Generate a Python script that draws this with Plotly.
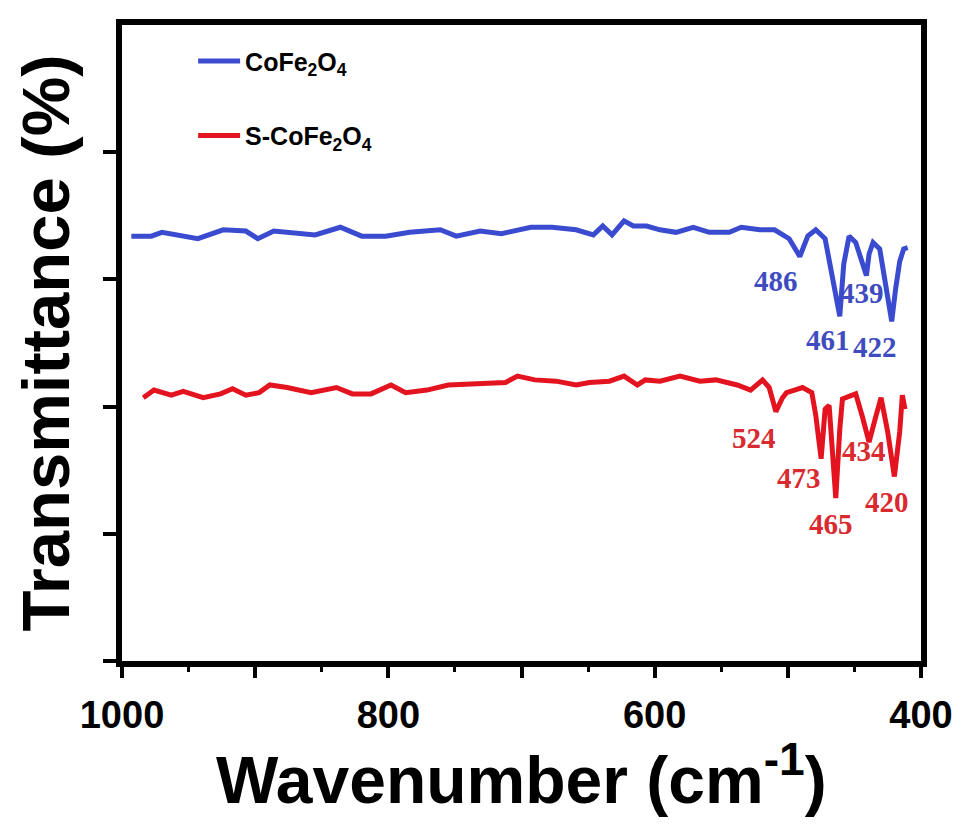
import plotly.graph_objects as go

# ---- data ----
blue_wn = [993, 978, 970, 951, 943, 924, 907, 898, 886, 855, 836, 820, 802, 784, 761, 749, 731, 715,
           693, 677, 659, 646, 639, 632, 623, 616, 606, 596, 584, 571, 559, 544, 535, 521, 510, 499,
           491, 485, 479, 472, 467, 461, 458, 454, 449, 445, 441, 439, 436, 431, 427, 422, 419, 416,
           413, 410]
blue_t = [3.34, 3.34, 3.37, 3.34, 3.32, 3.39, 3.38, 3.32, 3.38, 3.35, 3.41, 3.34, 3.34, 3.37, 3.39,
          3.34, 3.38, 3.36, 3.41, 3.41, 3.39, 3.35, 3.42, 3.35, 3.46, 3.42, 3.42, 3.39, 3.37, 3.41,
          3.37, 3.37, 3.41, 3.39, 3.39, 3.32, 3.18, 3.34, 3.39, 3.32, 3.04, 2.71, 3.12, 3.34, 3.29,
          3.16, 3.03, 3.20, 3.29, 3.24, 3.00, 2.67, 2.93, 3.14, 3.24, 3.25]

red_wn = [984, 976, 963, 954, 939, 926, 917, 907, 897, 889, 876, 858, 839, 827, 813, 798, 787, 771,
          755, 736, 712, 703, 690, 674, 659, 649, 634, 623, 613, 607, 596, 581, 566, 554, 538, 528,
          519, 514, 509, 504, 501, 495, 489, 482, 479, 475, 472, 469, 467, 464, 461, 459, 454, 449,
          444, 439, 434, 430, 425, 420, 416, 414, 412]
red_t = [2.07, 2.13, 2.09, 2.12, 2.07, 2.10, 2.14, 2.09, 2.11, 2.17, 2.15, 2.11, 2.15, 2.10, 2.10,
         2.17, 2.11, 2.13, 2.17, 2.18, 2.19, 2.24, 2.21, 2.20, 2.17, 2.19, 2.20, 2.24, 2.17, 2.21,
         2.20, 2.24, 2.20, 2.21, 2.17, 2.13, 2.21, 2.15, 1.96, 2.07, 2.11, 2.13, 2.15, 2.11, 1.93,
         1.59, 1.98, 2.01, 1.67, 1.28, 1.82, 2.06, 2.08, 2.10, 1.92, 1.72, 1.92, 2.07, 1.80, 1.45,
         1.80, 2.09, 1.98]

blue_labels = ["486", "461", "439", "422"]
blue_label_x = [508.6, 469.7, 444.2, 434.5]
blue_label_y = [2.99, 2.52, 2.89, 2.47]

red_labels = ["524", "473", "434", "465", "420"]
red_label_x = [525.1, 491.4, 442.7, 467.4, 425.5]
red_label_y = [1.75, 1.44, 1.65, 1.08, 1.25]

x_tickvals = [1000, 900, 800, 700, 600, 500, 400]
x_ticktext = ["1000", " ", "800", " ", "600", " ", "400"]
y_tickvals = [0, 1, 2, 3, 4]

BLUE = "#3a4bcf"
BLUE_TXT = "#3f4cc0"
RED = "#e3141f"
RED_TXT = "#d92a2f"
SANS = "Liberation Sans, Arial, sans-serif"
SERIF = "Liberation Serif, Times New Roman, serif"

fig = go.Figure()
fig.add_trace(go.Scatter(x=blue_wn, y=blue_t, mode="lines", name="<b>CoFe<sub>2</sub>O<sub>4</sub></b>",
                         legendgroup="a", line=dict(color=BLUE, width=5)))
fig.add_trace(go.Scatter(x=red_wn, y=red_t, mode="lines", name="<b>S-CoFe<sub>2</sub>O<sub>4</sub></b>",
                         legendgroup="b", line=dict(color=RED, width=5)))

annotations = []
for t, x, y in zip(blue_labels, blue_label_x, blue_label_y):
    annotations.append(dict(x=x, y=y, xref="x", yref="y", text="<b>%s</b>" % t, showarrow=False,
                            font=dict(family=SERIF, size=29, color=BLUE_TXT)))
for t, x, y in zip(red_labels, red_label_x, red_label_y):
    annotations.append(dict(x=x, y=y, xref="x", yref="y", text="<b>%s</b>" % t, showarrow=False,
                            font=dict(family=SERIF, size=29, color=RED_TXT)))

annotations.append(dict(x=0.5, y=-0.179, xref="paper", yref="paper",
                        text="<b>Wavenumber (cm<sup>-1</sup>)</b>", showarrow=False,
                        xanchor="center", yanchor="middle",
                        font=dict(family=SANS, size=66, color="black")))

fig.update_layout(
    width=968, height=831,
    margin=dict(l=114, r=55, t=11, b=178),
    paper_bgcolor="white", plot_bgcolor="white",
    showlegend=True,
    legend=dict(x=0.089, y=0.979, xanchor="left", yanchor="top",
                traceorder="grouped", tracegroupgap=39, itemwidth=42,
                bgcolor="rgba(0,0,0,0)",
                font=dict(family=SANS, size=25, color="black")),
    annotations=annotations,
)
fig.update_xaxes(range=[1000, 400], showgrid=False, zeroline=False,
                 showline=True, linewidth=6, linecolor="black", mirror=True,
                 tickmode="array", tickvals=x_tickvals, ticktext=x_ticktext,
                 ticks="outside", ticklen=11, tickwidth=4, tickcolor="black",
                 ticklabelstandoff=4,
                 tickfont=dict(family=SANS, size=38, color="black", weight="bold"),
                 minor=dict(dtick=50, tick0=400, ticks="outside", ticklen=5, tickwidth=3,
                            tickcolor="black", showgrid=False))
fig.update_yaxes(range=[0, 5], showgrid=False, zeroline=False,
                 showline=True, linewidth=6, linecolor="black", mirror=True,
                 tickmode="array", tickvals=y_tickvals, showticklabels=False,
                 ticks="outside", ticklen=13, tickwidth=4, tickcolor="black",
                 title=dict(text="<b>Transmittance (%)</b>", standoff=38,
                            font=dict(family=SANS, size=67, color="black")))

fig.write_html("out.html")
